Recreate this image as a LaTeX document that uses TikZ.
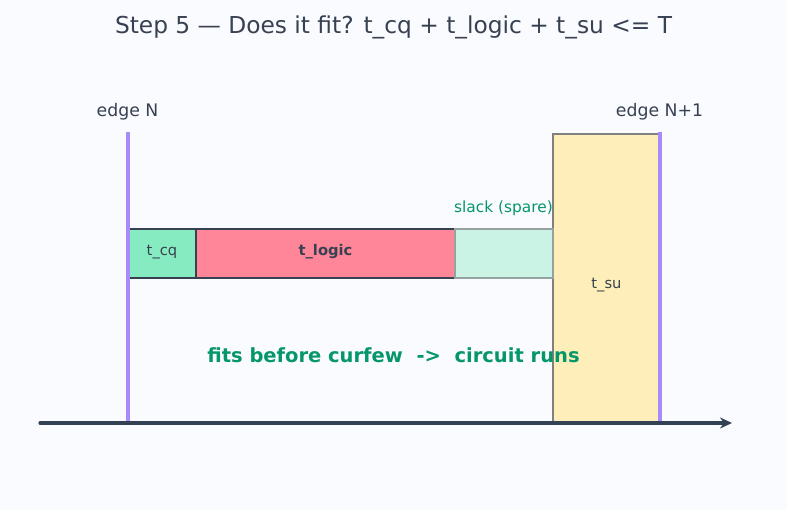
\documentclass[tikz,border=0pt]{standalone}
\usepackage{fontspec}
\setmainfont{DejaVu Sans}
\usetikzlibrary{arrows.meta}
\definecolor{bgc}{HTML}{FAFBFE}
\definecolor{txt}{HTML}{374151}
\definecolor{edgec}{HTML}{A78BFA}
\definecolor{axisc}{HTML}{334155}
\definecolor{cqc}{HTML}{86EBC1}
\definecolor{logicc}{HTML}{FF8599}
\definecolor{slackc}{HTML}{CAF3E5}
\definecolor{slackd}{HTML}{94A3A0}
\definecolor{suc}{HTML}{FDEEBA}
\definecolor{sud}{HTML}{808080}
\definecolor{okc}{HTML}{059669}
\tikzset{
  lbl/.style={font=\fontsize{17.3}{20}\selectfont, text=txt},
  seg/.style={draw=txt, line width=1.3pt},
  segtxt/.style={font=\fontsize{14.7}{17}\selectfont, text=txt},
  edgeline/.style={draw=edgec, line width=3.2pt},
}
\begin{document}
\begin{tikzpicture}[x=1pt,y=-1pt]
\fill[bgc] (0,0) rectangle (787,510);
\useasboundingbox (0,0) rectangle (787,510);
\node[font=\fontsize{23.3}{27}\selectfont, text=txt] (title) at (393.5,27.5) {Step 5 — Does it fit? t\_cq + t\_logic + t\_su <= T};
% t_su box
\filldraw[fill=suc, draw=sud, line width=1.3pt] (553,134) rectangle (660,423);
\node[segtxt] (tsu) at (606.5,285) {t\_su};
% segments
\filldraw[seg, fill=cqc] (128,229) rectangle (196,278);
\node[segtxt] (tcq) at (162,252) {t\_cq};
\filldraw[seg, fill=logicc] (196,229) rectangle (455,278);
\node[segtxt, font=\fontsize{14.7}{17}\selectfont\bfseries] (tlogic) at (325.5,252) {t\_logic};
\filldraw[draw=slackd, line width=1.3pt, fill=slackc] (455,229) rectangle (553,278);
\node[font=\fontsize{15.4}{18}\selectfont, text=okc] (slack) at (503.5,208) {slack (spare)};
% edges
\coordinate (e1t) at (128,132);
\coordinate (e1b) at (128,423);
\coordinate (e2t) at (660,132);
\coordinate (e2b) at (660,423);
\draw[edgeline] (e1t) -- (e1b);
\draw[edgeline] (e2t) -- (e2b);
\node[lbl] (edgeN) at (127.5,112) {edge N};
\node[lbl] (edgeN1) at (659.5,112) {edge N+1};
% axis
\coordinate (a0) at (40,423);
\coordinate (a1) at (732,423);
\draw[axisc, line width=3.2pt, line cap=round, -{Stealth[length=12pt,width=11pt]}] (a0) -- (a1);
\node[font=\fontsize{19.5}{23}\selectfont\bfseries, text=okc] (fits) at (393.5,355) {fits before curfew\ \ ->\ \ circuit runs};
\end{tikzpicture}
\end{document}
